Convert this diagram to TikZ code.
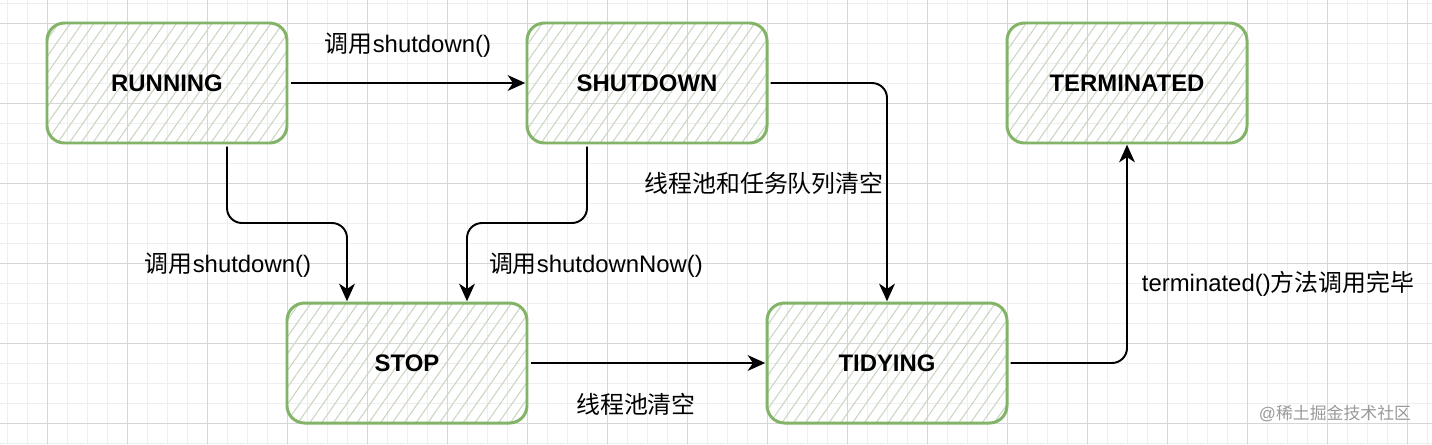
\documentclass[tikz,border=0pt]{standalone}
\usepackage{fontspec}
\setmainfont{Liberation Sans}
\newfontfamily\cjk{Noto Sans CJK SC}
\usetikzlibrary{
  arrows.meta,
  positioning,
  calc,
  patterns.meta
}
\definecolor{boxgreen}{HTML}{82B366}
\definecolor{hatch}{HTML}{C9D7C2}
\definecolor{gridminor}{HTML}{EFEFEF}
\definecolor{gridmajor}{HTML}{D6D6D6}
\definecolor{markgray}{HTML}{9A9A9A}
\newcommand{\lblfont}{\fontsize{13.6}{16}\selectfont}
\tikzset{
  state/.style={
    draw=boxgreen,
    line width=1.7pt,
    outer sep=0pt,
    rounded corners=0.35cm,
    minimum width=4.8cm,
    minimum height=2.4cm,
    pattern={Lines[angle=55, distance=5.5pt, line width=0.6pt]},
    pattern color=hatch,
    font=\lblfont\bfseries,
    text=black,
  },
  flow/.style={
    -{Stealth[length=10pt, width=9pt, inset=3pt]},
    line width=1.1pt,
    rounded corners=0.3cm,
    shorten <=2pt,
    shorten >=1pt,
  },
  elabel/.style={
    font=\lblfont,
    text=black,
    inner sep=0pt,
  },
}

\begin{document}
\begin{tikzpicture}

\useasboundingbox (-3.34,-7.22) rectangle (25.3,1.66);

% === Grid ===
\fill[white] (-3.34,-7.22) rectangle (25.3,1.66);
\draw[gridminor, line width=0.5pt, step=0.4] (-3.34,-7.22) grid (25.3,1.66);
\begin{scope}[shift={(0.8,-0.4)}]
  \draw[gridmajor, line width=0.5pt, step=1.6] (-4.14,-6.82) grid (24.5,2.06);
\end{scope}

% === ROW 1 ===
\node[state] (running) at (0,0) {RUNNING};
\node[state, right=4.8cm of running] (shutdown) {SHUTDOWN};
\node[state, right=4.8cm of shutdown] (terminated) {TERMINATED};

% === ROW 2 ===
\node[state, below=3.2cm of running, xshift=4.8cm] (stop) {STOP};
\node[state, right=4.8cm of stop] (tidying) {TIDYING};

% === Connectors ===
\draw[flow] (running.east) -- (shutdown.west);
\draw[flow] ($(running.south)+(1.2,0)$) -- ++(0,-1.6) -| ($(stop.north)+(-1.2,0)$);
\draw[flow] ($(shutdown.south)+(-1.2,0)$) -- ++(0,-1.6) -| ($(stop.north)+(1.2,0)$);
\draw[flow] (shutdown.east) -| (tidying.north);
\draw[flow] (stop.east) -- (tidying.west);
\draw[flow] (tidying.east) -| (terminated.south);

% === Labels ===
\node[elabel] (l1) at (4.82,0.76) {{\cjk 调用}shutdown()};
\node[elabel] (l2) at (1.22,-3.64) {{\cjk 调用}shutdown()};
\node[elabel] (l3) at (8.58,-3.64) {{\cjk 调用}shutdownNow()};
\node[elabel] (l4) at (11.94,-2.0) {\cjk 线程池和任务队列清空};
\node[elabel] (l5) at (9.38,-6.42) {\cjk 线程池清空};
\node[elabel] (l6) at (22.22,-4.02) {terminated(){\cjk 方法调用完毕}};

% watermark
\node[elabel, font=\fontsize{9.6}{11}\selectfont, text=markgray] (mark) at (23.36,-6.6) {@{\cjk 稀土掘金技术社区}};

\end{tikzpicture}
\end{document}
